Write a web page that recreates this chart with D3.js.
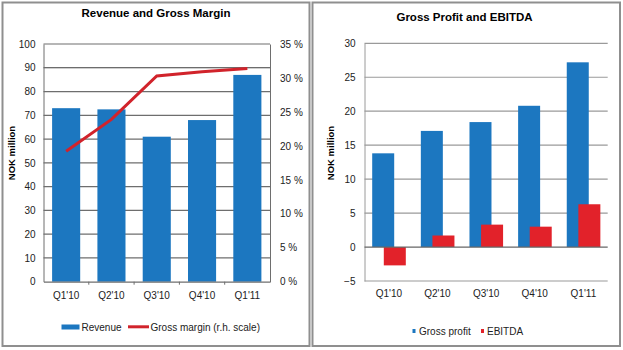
<!DOCTYPE html>
<html>
<head>
<meta charset="utf-8">
<script src="https://cdn.jsdelivr.net/npm/d3@7"></script>
<style>
  body { margin: 0; background: #fff; }
  svg { font-family: Arial, "Liberation Sans", sans-serif; }
</style>
</head>
<body>
<div id="chart"></div>
<script>
// data
const quarters = ["Q1'10", "Q2'10", "Q3'10", "Q4'10", "Q1'11"]
const revenue = [73, 72.5, 61, 68, 87]
const grossMargin = [19.2, 23.9, 30.3, 30.9, 31.4]   // percent, r.h. scale
const grossProfit = [13.8, 17.1, 18.4, 20.8, 27.2]
const ebitda = [-2.7, 1.7, 3.3, 3.0, 6.3]

const revTicks = [0, 10, 20, 30, 40, 50, 60, 70, 80, 90, 100]
const pctTicks = [0, 5, 10, 15, 20, 25, 30, 35]
const gpTicks = [-5, 0, 5, 10, 15, 20, 25, 30]

const blue = '#1c77c0'
const red = '#e2222a'
const fs = '10px'

const svg = d3.select('#chart')
  .append('svg')
  .attr('width', 623)
  .attr('height', 350)

// panel frames
svg.append('rect').attr('x', 2.5).attr('y', 2.5).attr('width', 307).attr('height', 343.5)
  .attr('fill', 'none').attr('stroke', '#8f8f8f').attr('stroke-width', 2)
svg.append('rect').attr('x', 312.5).attr('y', 2.5).attr('width', 307.5).attr('height', 343.5)
  .attr('fill', 'none').attr('stroke', '#8f8f8f').attr('stroke-width', 2)

// ---------- left: Revenue and Gross Margin ----------
const L = {left: 43.5, right: 270, top: 44, bottom: 281.7}

const x1 = d3.scaleBand().domain(quarters).range([L.left, L.right])
  .paddingInner(0.38).paddingOuter(0.19)
const yRev = d3.scaleLinear().domain([0, 100]).range([L.bottom, L.top])
const yPct = d3.scaleLinear().domain([0, 35]).range([L.bottom, L.top])

const left = svg.append('g')

left.append('text')
  .attr('x', 156).attr('y', 17)
  .attr('text-anchor', 'middle')
  .style('font-size', '11.5px').style('font-weight', 'bold')
  .text('Revenue and Gross Margin')

// gridlines
left.selectAll('.grid')
  .data(revTicks.filter(d => d > 0))
  .enter().append('line')
  .attr('x1', L.left).attr('x2', L.right)
  .attr('y1', d => yRev(d)).attr('y2', d => yRev(d))
  .attr('stroke', d => d == 90 ? '#3c3c3c' : '#6e6e6e')
  .attr('stroke-width', 1.2)

const yAxisL = d3.axisLeft(yRev).tickValues(revTicks).tickSize(0).tickPadding(8)
left.append('g').attr('transform', 'translate(' + L.left + ',0)').call(yAxisL)
  .call(g => g.select('.domain').attr('stroke', '#6e6e6e'))
  .selectAll('text').style('font-size', fs).attr('fill', '#222')

const yAxisR = d3.axisRight(yPct).tickValues(pctTicks).tickSize(0).tickPadding(10)
  .tickFormat(d => d + ' %')
left.append('g').attr('transform', 'translate(' + L.right + ',0)').call(yAxisR)
  .call(g => g.select('.domain').attr('stroke', '#6e6e6e'))
  .selectAll('text').style('font-size', fs).attr('fill', '#222')

left.selectAll('.bar')
  .data(revenue)
  .enter().append('rect')
  .attr('x', (d, i) => x1(quarters[i]))
  .attr('width', x1.bandwidth())
  .attr('y', d => yRev(d))
  .attr('height', d => yRev(0) - yRev(d))
  .attr('fill', blue)

const xAxisL = d3.axisBottom(x1).tickSize(0).tickPadding(10)
left.append('g').attr('transform', 'translate(0,' + L.bottom + ')').call(xAxisL)
  .call(g => g.select('.domain').attr('stroke', '#6e6e6e').attr('stroke-width', 1.2))
  .selectAll('text').style('font-size', fs).attr('fill', '#222')

// small ticks between categories
left.selectAll('.sep')
  .data(quarters.slice(1))
  .enter().append('line')
  .attr('x1', d => x1(d) - x1.step() * x1.paddingInner() / 2)
  .attr('x2', d => x1(d) - x1.step() * x1.paddingInner() / 2)
  .attr('y1', L.bottom).attr('y2', L.bottom + 3)
  .attr('stroke', '#6e6e6e')

const marginLine = d3.line()
  .x((d, i) => x1(quarters[i]) + x1.bandwidth() / 2)
  .y(d => yPct(d))
left.append('path')
  .datum(grossMargin)
  .attr('d', marginLine)
  .attr('fill', 'none')
  .attr('stroke', '#d1232b')
  .attr('stroke-width', 3)

left.append('text')
  .attr('transform', 'translate(15,153) rotate(-90)')
  .attr('text-anchor', 'middle')
  .style('font-size', '9.5px').style('font-weight', 'bold')
  .text('NOK million')

// legend
left.append('rect').attr('x', 61.5).attr('y', 324.5).attr('width', 18).attr('height', 5).attr('fill', blue)
left.append('text').attr('x', 81.5).attr('y', 330.5).style('font-size', fs).attr('fill', '#222').text('Revenue')
left.append('line').attr('x1', 128).attr('x2', 149).attr('y1', 326.8).attr('y2', 326.8)
  .attr('stroke', '#d1232b').attr('stroke-width', 3)
left.append('text').attr('x', 150.5).attr('y', 330.5).style('font-size', fs).attr('fill', '#222').text('Gross margin (r.h. scale)')

// ---------- right: Gross Profit and EBITDA ----------
const R = {left: 364.5, right: 607.7, top: 43.3, bottom: 281}

const x2 = d3.scaleBand().domain(quarters).range([R.left, R.right])
const xSub = d3.scaleOrdinal().domain(['gp', 'eb']).range([7.7, 19.3])
const barW = 22
const yGp = d3.scaleLinear().domain([-5, 30]).range([R.bottom, R.top])

const right = svg.append('g')

right.append('text')
  .attr('x', 464.5).attr('y', 21)
  .attr('text-anchor', 'middle')
  .style('font-size', '11.5px').style('font-weight', 'bold')
  .text('Gross Profit and EBITDA')

right.selectAll('.grid')
  .data(gpTicks.filter(d => d != 0))
  .enter().append('line')
  .attr('x1', R.left).attr('x2', R.right)
  .attr('y1', d => yGp(d)).attr('y2', d => yGp(d))
  .attr('stroke', '#9a9a9a')
  .attr('stroke-width', 1.2)

const yAxis2 = d3.axisLeft(yGp).tickValues(gpTicks).tickSize(0).tickPadding(9)
right.append('g').attr('transform', 'translate(' + R.left + ',0)').call(yAxis2)
  .call(g => g.select('.domain').attr('stroke', '#9a9a9a'))
  .selectAll('text').style('font-size', fs).attr('fill', '#222')

right.selectAll('.gp')
  .data(grossProfit)
  .enter().append('rect')
  .attr('x', (d, i) => x2(quarters[i]) + xSub('gp'))
  .attr('width', barW)
  .attr('y', d => yGp(Math.max(0, d)))
  .attr('height', d => Math.abs(yGp(d) - yGp(0)))
  .attr('fill', blue)

right.selectAll('.eb')
  .data(ebitda)
  .enter().append('rect')
  .attr('x', (d, i) => x2(quarters[i]) + xSub('eb'))
  .attr('width', barW)
  .attr('y', d => yGp(Math.max(0, d)))
  .attr('height', d => Math.abs(yGp(d) - yGp(0)))
  .attr('fill', red)

right.append('line')
  .attr('x1', R.left).attr('x2', R.right)
  .attr('y1', yGp(0)).attr('y2', yGp(0))
  .attr('stroke', '#666').attr('stroke-width', 1.3)

const xAxis2 = d3.axisBottom(x2).tickSize(0).tickPadding(9)
right.append('g').attr('transform', 'translate(0,' + R.bottom + ')').call(xAxis2)
  .call(g => g.select('.domain').remove())
  .selectAll('text').style('font-size', fs).attr('fill', '#222')

right.append('text')
  .attr('transform', 'translate(334,153) rotate(-90)')
  .attr('text-anchor', 'middle')
  .style('font-size', '9.5px').style('font-weight', 'bold')
  .text('NOK million')

right.append('rect').attr('x', 412.5).attr('y', 329).attr('width', 3).attr('height', 4).attr('fill', blue)
right.append('text').attr('x', 419).attr('y', 335).style('font-size', fs).attr('fill', '#222').text('Gross profit')
right.append('rect').attr('x', 481).attr('y', 329).attr('width', 3).attr('height', 4).attr('fill', red)
right.append('text').attr('x', 487).attr('y', 335).style('font-size', fs).attr('fill', '#222').text('EBITDA')
</script>
</body>
</html>
